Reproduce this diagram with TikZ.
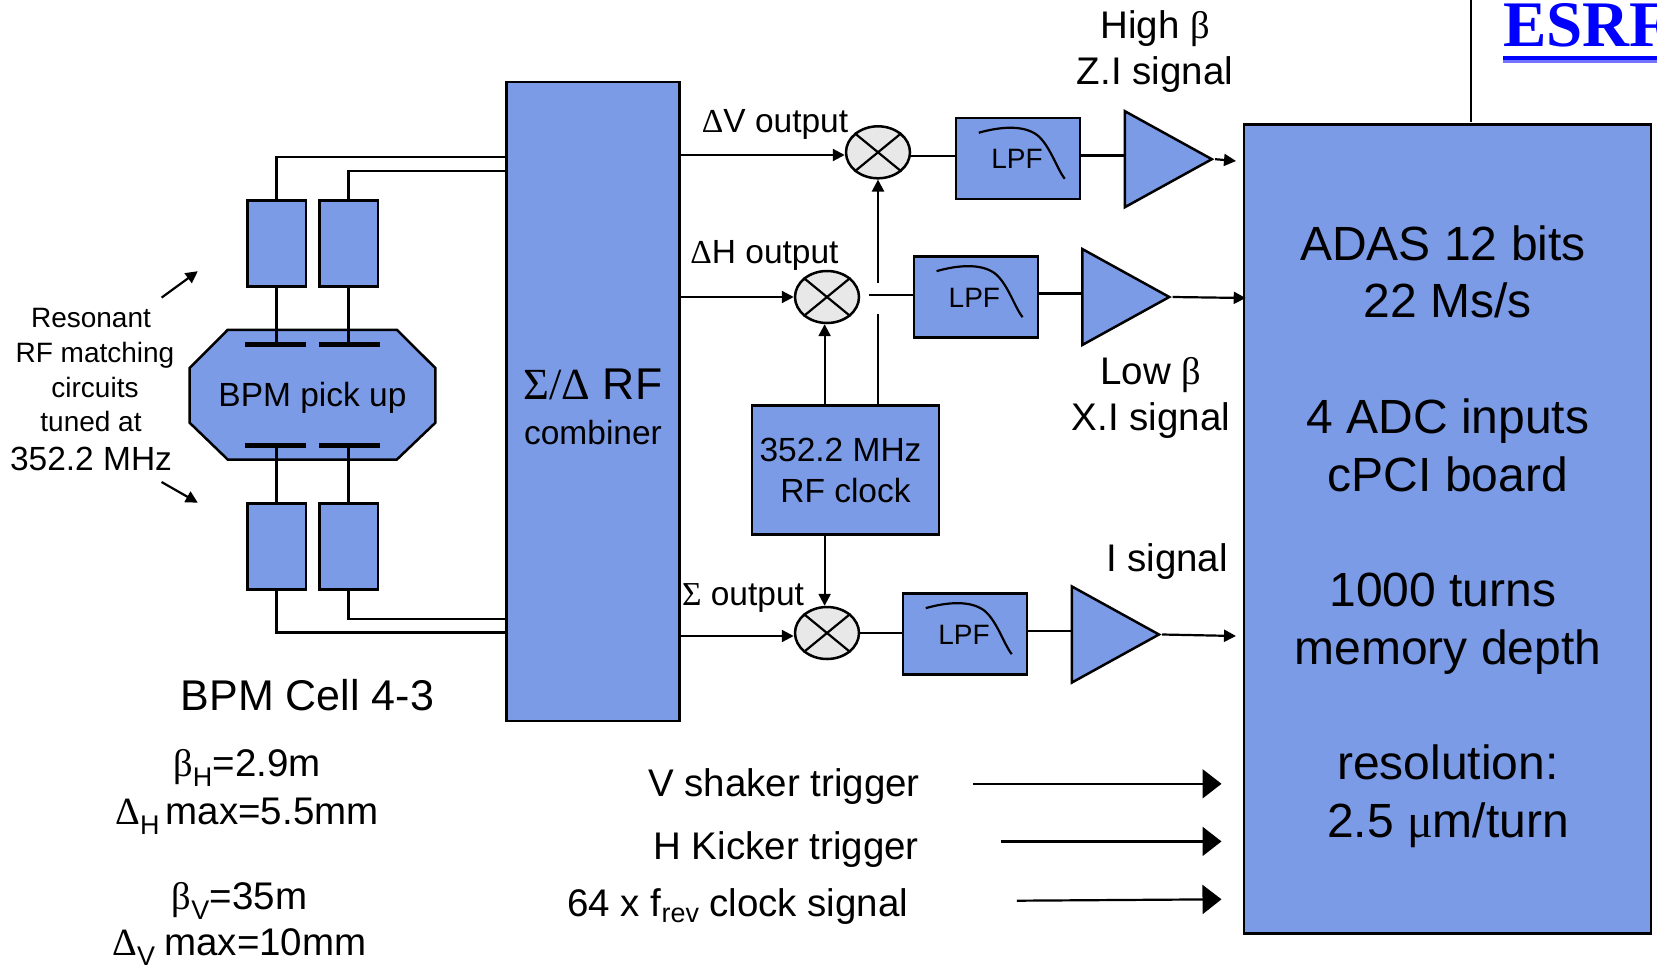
\documentclass[tikz,border=0pt]{standalone}
\usepackage{fontspec}
\setmainfont{Liberation Sans}
\newfontfamily\symfont{Liberation Serif}
\usetikzlibrary{positioning, arrows.meta, shapes.geometric}
\definecolor{boxblue}{RGB}{124,155,230}
\definecolor{mixgray}{RGB}{232,232,232}
\newcommand{\gr}[1]{{\symfont #1}}

\begin{document}
\begin{tikzpicture}[x=1pt, y=-1pt,
  box/.style={rectangle, draw=black, line width=2.5pt, fill=boxblue, inner sep=0pt},
  match/.style={box, minimum width=58.5pt, minimum height=86pt},
  lpf/.style={box, minimum width=124pt, minimum height=81pt, font=\fontsize{28}{34}\selectfont},
  amp/.style={isosceles triangle, isosceles triangle stretches, draw=black, line width=2.5pt, fill=boxblue, inner sep=0pt, minimum width=96pt, minimum height=87pt, anchor=west},
  mixer/.style={ellipse, draw=black, line width=2.5pt, fill=mixgray, inner sep=0pt, minimum width=64pt, minimum height=52pt},
  plate/.style={rectangle, fill=black, inner sep=0pt, minimum width=61pt, minimum height=5pt},
  wire/.style={line width=2.2pt},
  arrow/.style={wire, -{Triangle[length=12pt, width=12pt]}},
  bigarrow/.style={wire, -{Triangle[length=19pt, width=29pt]}},
  small/.style={font=\fontsize{28}{34}\selectfont, inner sep=0pt},
  mid/.style={font=\fontsize{33.5}{41}\selectfont, inner sep=0pt, align=center},
  big/.style={font=\fontsize{38.5}{46}\selectfont, inner sep=0pt, align=center}
]
\useasboundingbox (0,0) rectangle (1657,964);

\node[box, minimum width=173pt, minimum height=639pt] (combiner) at (593.2,401.7) {};
\node[mid, font=\fontsize{44.5}{50}\selectfont] (sigmalab) at (593,384) {\gr{Σ/Δ} RF};
\node[mid] (comblab) at (593,433) {combiner};

\node[match] (ua) at (276.5,243.5) {};
\node[match, right=11pt of ua] (ub) {};
\node[match] (la) at (276.5,546.4) {};
\node[match, right=11pt of la] (lb) {};

\draw[line width=2.5pt, fill=boxblue] (227.7,329.8) -- (396.9,329.8) -- (435.3,368) -- (435.3,422.8) -- (396.9,459.5) -- (227.7,459.5) -- (189.7,422.8) -- (189.7,368) -- cycle;
\node[mid] (pickuplab) at (312.5,397.5) {BPM pick up};
\node[plate] (pua) at (275.5,344.7) {};
\node[plate, right=13pt of pua] (pub) {};
\node[plate] (pla) at (275.5,445.7) {};
\node[plate, right=13pt of pla] (plb) {};

\coordinate (ca) at (507,157.2);
\coordinate (cb) at (507,171.3);
\coordinate (cc) at (507,618.7);
\coordinate (cd) at (507,632.5);
\draw[wire] (ua.north) |- (ca);
\draw[wire] (ub.north) |- (cb);
\draw[wire] (lb.south) |- (cc);
\draw[wire] (la.south) |- (cd);
\draw[wire] (ua.south) -- (ua.south |- pua.north);
\draw[wire] (ub.south) -- (ub.south |- pub.north);
\draw[wire] (la.north) -- (la.north |- pla.south);
\draw[wire] (lb.north) -- (lb.north |- plb.south);

\node[small] (resa) at (91,318) {Resonant};
\node[small] (resb) at (95,355) {RF matching};
\node[small] (resc) at (95,387) {circuits};
\node[small] (resd) at (91,421.5) {tuned at};
\node[mid] (rese) at (91,458.5) {352.2 MHz};
\coordinate (pa) at (161.6,297.6);
\coordinate (pb) at (197.8,271.2);
\coordinate (pc) at (161.6,482);
\coordinate (pd) at (197.8,502.7);
\draw[arrow] (pa) -- (pb);
\draw[arrow] (pc) -- (pd);

\node[mixer] (mixa) at (878,152.3) {};
\node[mixer] (mixb) at (827,297) {};
\node[mixer] (mixc) at (827,633) {};
\foreach \m in {mixa,mixb,mixc} {
  \draw[wire] (\m.north east) -- (\m.south west);
  \draw[wire] (\m.north west) -- (\m.south east);
}

\node[lpf] (lpfa) at (1018,158.5) {};
\node[lpf] (lpfb) at (975.8,296.9) {};
\node[lpf] (lpfc) at (965,633.9) {};
\foreach \b in {lpfa,lpfb,lpfc} {
  \draw[wire, shift={(\b.north west)}] (24,16) .. controls (45,10) and (68,8) .. (82,18) .. controls (95,28) and (102,52) .. (110,62);
}
\node[small] (lpfta) at (1017,158.5) {LPF};
\node[small] (lpftb) at (974.4,298) {LPF};
\node[small] (lpftc) at (964,635) {LPF};

\node[amp] (ampa) at (1123.6,159.2) {};
\node[amp] (ampb) at (1081,297) {};
\node[amp] (ampc) at (1070.7,634.5) {};

\node[box, minimum width=407pt, minimum height=809pt] (adas) at (1447.6,529) {};
\node[box, minimum width=187pt, minimum height=129pt, mid] (clock) at (845.5,470) {\mbox{352.2 MHz\kern10pt}\\RF clock};

\coordinate (va) at (680,155);
\coordinate (vb) at (680,297);
\coordinate (vc) at (680,636);
\draw[arrow] (va) -- (mixa.west |- va);
\draw[arrow] (vb) -- (mixb.west |- vb);
\draw[arrow] (vc) -- (mixc.west |- vc);

\coordinate (ja) at (1123.6,155.5);
\coordinate (jb) at (1081,293.5);
\coordinate (jc) at (1070.7,631);
\coordinate (jd) at (868.8,294.7);
\coordinate (je) at (909,156.3);
\draw[wire] (je) -- (lpfa.west |- je);
\draw[wire] (jd) -- (lpfb.west |- jd);
\draw[wire] (mixc.east) -- (lpfc.west |- mixc);
\draw[wire] (lpfa.east |- ja) -- (ja);
\draw[wire] (lpfb.east |- jb) -- (jb);
\draw[wire] (lpfc.east |- jc) -- (jc);

\coordinate (ea) at (1236,161);
\coordinate (eb) at (1245.7,298);
\coordinate (ec) at (1236,636);
\draw[arrow] (ampa.apex) -- (ea);
\draw[arrow] (ampb.apex) -- (eb);
\draw[arrow] (ampc.apex) -- (ec);

\coordinate (ga) at (878,313.7);
\coordinate (gb) at (878,283.3);
\draw[wire] (clock.north -| ga) -- (ga);
\draw[arrow] (gb) -- (mixa.south);
\draw[arrow] (clock.north -| mixb.265) -- (mixb.265);
\draw[arrow] (clock.south -| mixc.95) -- (mixc.95);

\node[mid] (dv) at (775,124.5) {\gr{Δ}V output};
\node[mid] (dh) at (764.5,255.5) {\gr{Δ}H output};
\node[mid] (ds) at (743,598) {\gr{Σ} output};

\node[big] (high) at (1155,52) {High \gr{β}\\Z.I signal};
\node[big] (low) at (1151,398) {Low \gr{β}\\X.I signal};
\node[big] (isig) at (1167,562) {I signal};

\node[inner sep=0pt, align=center, font=\fontsize{48}{57.7}\selectfont] (adastxt) at (1448,536.5) {\mbox{ADAS 12 bits\kern10pt}\\22 Ms/s\\ \\4 ADC inputs\\cPCI board\\ \\\mbox{1000 turns\kern10pt}\\memory depth\\ \\resolution:\\2.5 \gr{μ}m/turn};

\node[font=\fontsize{43}{50}\selectfont, inner sep=0pt] (cell) at (307.5,695) {BPM Cell 4-3};
\node[big, font=\fontsize{38.5}{47.5}\selectfont] (betah) at (247,792) {\gr{β}\textsubscript{H}=2.9m\\\gr{Δ}\textsubscript{H}\kern-5pt\ max=5.5mm};
\node[big] (betav) at (239.5,923.5) {\gr{β}\textsubscript{V}=35m\\\gr{Δ}\textsubscript{V}\kern-2pt\ max=10mm};

\node[big, anchor=east] (vsh) at (920,787) {V shaker trigger};
\node[big, anchor=east] (hki) at (919,849.5) {H Kicker trigger};
\node[big, anchor=east] (frev) at (908.5,906.5) {64 x f\textsubscript{rev}\kern-1pt\ clock signal};
\coordinate (ta) at (973,783.8);
\coordinate (tb) at (1000.7,841.4);
\coordinate (tc) at (1016.8,900.7);
\coordinate (ra) at (1221.5,783.8);
\coordinate (rb) at (1221.5,841.4);
\coordinate (rc) at (1221.5,899.3);
\draw[bigarrow] (ta) -- (ra);
\draw[bigarrow] (tb) -- (rb);
\draw[bigarrow] (tc) -- (rc);

\coordinate (ya) at (1470.7,0);
\coordinate (yb) at (1470.7,121.7);
\draw[wire] (ya) -- (yb);
\node[anchor=base west, inner sep=0pt, text=blue, font=\symfont\bfseries\fontsize{65}{70}\selectfont] (esrf) at (1503,46) {ESRF};
\fill[blue] (1503,56) rectangle (1657,60);
\fill[blue!55] (1503,60) rectangle (1657,63.3);

\end{tikzpicture}
\end{document}
